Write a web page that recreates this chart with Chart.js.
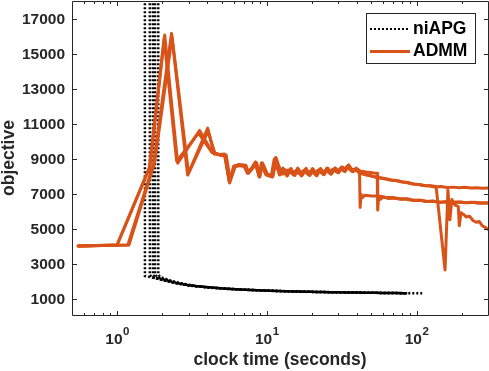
<!DOCTYPE html>
<html>
<head>
<meta charset="utf-8">
<script src="https://cdn.jsdelivr.net/npm/chart.js@4.4.0/dist/chart.umd.min.js"></script>
<style>
  html, body { margin: 0; padding: 0; background: #fff; }
  canvas { display: block; }
</style>
</head>
<body>
<canvas id="objective-chart" width="489" height="371"></canvas>
<script>
// axis ticks
const yTicks = [1000, 3000, 5000, 7000, 9000, 11000, 13000, 15000, 17000];
const xMajorTicks = [1, 10, 100];
const xMinorTicks = [0.6, 0.7, 0.8, 0.9, 2, 3, 4, 5, 6, 7, 8, 9, 20, 30, 40, 50, 60, 70, 80, 90, 200];
const legendLabels = ['niAPG', 'ADMM'];

// ADMM runs: [clock time (s), objective]
const admmRunA = [[0.55,4050],[1.0,4100],[1.66,8600],[2.08,16100],[2.54,8780],[3.56,10650],[4.34,9380],[4.83,9280],[5.2,9300],[5.63,7700],[6.0,8600],[6.55,8680],[7.1,8640],[7.4,8230],[7.9,8480],[8.4,8850],[8.9,8000],[9.2,8780],[9.9,8120],[10.8,8020],[11.4,9080],[12.0,8350],[12.7,8150],[13.4,8400],[13.8,8200],[14.2,8330],[15.0,8120],[15.9,8380],[16.8,8180],[17.8,8320],[18.8,8150],[19.9,8360],[21.0,8170],[22.2,8340],[23.5,8200],[24.9,8400],[26.3,8220],[27.8,8420],[29.4,8280],[31.1,8460],[32.9,8320],[34.4,8600],[36.8,8330],[38.9,8420],[41.1,8250],[44,8150],[48,8080],[52,8000],[56,7950],[61,7900],[66,7820],[72,7800],[78,7720],[85,7690],[92,7600],[100,7580],[110,7500],[120,7490],[132,7420],[145,7440],[160,7390],[175,7410],[192,7370],[210,7400],[230,7360],[252,7380],[275,7340],[300,7360]];
const admmRunB = [[0.55,4050],[1.18,4100],[1.75,8700],[2.31,16200],[2.96,8100],[4.03,10780],[4.45,9300],[4.95,9250],[5.3,9200],[5.65,7650],[6.1,8620],[6.5,8650],[7.2,8600],[7.5,8250],[7.95,8450],[8.5,8820],[8.95,7980],[9.3,8800],[10.0,8100],[10.9,7990],[11.5,9100],[12.1,8150],[12.8,8500],[13.6,8050],[14.4,8450],[15.2,8100],[16.1,8500],[17.0,8050],[18.0,8430],[19.1,8100],[20.2,8470],[21.3,8080],[22.6,8440],[23.9,8120],[25.2,8500],[26.7,8150],[28.2,8460],[29.8,8250],[31.5,8550],[33.3,8300],[35.0,8650],[37.2,8300],[39.5,8500],[41.6,8350],[42.0,6250],[42.6,7000],[43.5,6800],[45,6950],[50,6900],[56,6900],[62,6830],[69,6820],[77,6740],[86,6740],[96,6660],[107,6660],[118,6590],[130,6610],[145,6550],[160,6580],[178,6530],[198,6560],[220,6510],[245,6540],[270,6490],[300,6510]];
const admmRunC = [[0.55,4050],[1.2,4100],[1.78,8800],[2.33,16000],[3.0,8200],[4.05,10600],[4.5,9350],[5.0,9200],[5.35,9250],[5.7,7800],[6.15,8580],[6.45,8700],[7.25,8660],[7.55,8200],[8.05,8500],[8.55,8780],[9.0,8050],[9.4,8760],[10.1,8150],[11.0,8050],[11.6,9020],[12.4,8300],[13.1,8180],[13.9,8380],[14.8,8200],[15.6,8340],[16.6,8160],[17.6,8360],[18.6,8200],[19.7,8330],[20.8,8170],[22.0,8380],[23.3,8220],[24.6,8360],[26.0,8250],[27.5,8420],[29.1,8300],[30.8,8460],[32.6,8360],[34.2,8580],[36.3,8380],[38.5,8430],[40.8,8330],[43,8320],[46,8280],[49,8250],[52,8220],[54.6,8200],[55,6100],[55.8,6850],[57,6700],[60,6840],[65,6760],[71,6780],[78,6710],[86,6710],[95,6650],[105,6660],[116,6590],[128,6600],[142,6550],[157,6570],[172,6540],[190,6560],[210,6520],[232,6540],[255,6500],[280,6520],[300,6490]];
const admmRunD = [[0.55,4050],[1.0,4100],[1.64,8500],[2.06,15900],[2.5,8900],[3.5,10500],[4.3,9400],[4.9,9250],[5.25,9250],[5.6,7750],[6.05,8550],[6.6,8650],[7.05,8600],[7.45,8200],[8.0,8520],[8.35,8800],[8.85,8050],[9.25,8740],[9.8,8150],[10.7,8050],[11.2,9000],[12.2,8100],[12.9,8460],[13.7,8060],[14.5,8470],[15.4,8080],[16.3,8430],[17.3,8100],[18.3,8480],[19.4,8080],[20.5,8420],[21.6,8060],[22.9,8470],[24.2,8130],[25.6,8490],[27.1,8170],[28.6,8520],[30.2,8230],[32.0,8560],[33.8,8400],[35.2,8680],[37.8,8300],[40.0,8450],[42.5,8250],[46,8120],[50,8050],[54,7980],[58,7930],[63,7880],[69,7800],[75,7780],[82,7690],[89,7660],[96,7580],[105,7560],[115,7490],[125,7490],[135,7450],[155,2670],[162,7250],[167,5540],[172,6700],[180,6400],[190,6300],[193,5200],[198,5950],[206,5850],[215,5700],[226,5750],[238,5500],[250,5400],[262,5450],[275,5200],[288,5100],[300,5000]];

// niAPG runs: [clock time (s), objective]
const niapgRun1 = [[1.53,60000],[1.535,2330],[1.6,2300],[1.75,2220],[1.9,2150],[2.1,2060],[2.35,1950],[2.6,1880],[3.0,1790],[3.5,1720],[4.2,1660],[5.1,1600],[6.2,1560],[7.6,1530],[9.3,1500],[11.5,1470],[14,1450],[18,1430],[23,1410],[30,1395],[40,1380],[55,1365],[70,1355],[84,1345]];
const niapgRun2 = [[1.65,60000],[1.655,2380],[1.72,2260],[1.85,2200],[2.0,2100],[2.2,2020],[2.45,1930],[2.8,1840],[3.2,1770],[3.8,1700],[4.6,1640],[5.6,1590],[6.9,1550],[8.5,1520],[10.5,1490],[13,1460],[16,1440],[20,1420],[26,1405],[34,1390],[45,1375],[60,1360],[75,1350],[85,1345]];
const niapgRun3 = [[1.73,60000],[1.735,2400],[1.8,2250],[1.95,2160],[2.15,2070],[2.4,1960],[2.7,1870],[3.1,1790],[3.6,1730],[4.3,1670],[5.3,1610],[6.5,1560],[8,1530],[10,1500],[12.5,1470],[15.5,1450],[19.5,1430],[25,1410],[32,1395],[42,1380],[56,1365],[72,1355],[86,1345]];
const niapgRun4 = [[1.79,60000],[1.795,2420],[1.85,2270],[2.0,2170],[2.25,2040],[2.55,1920],[2.9,1830],[3.35,1760],[4.0,1690],[4.9,1630],[6.0,1580],[7.3,1540],[9,1510],[11,1480],[13.8,1455],[17,1435],[22,1415],[28,1400],[37,1385],[50,1370],[65,1358],[87,1345]];
const niapgRun5 = [[1.88,60000],[1.885,2400],[1.95,2260],[2.1,2180],[2.3,2060],[2.6,1940],[3.0,1830],[3.4,1760],[4.1,1690],[5.0,1630],[6.1,1580],[7.5,1540],[9.2,1505],[11.3,1475],[14,1455],[18,1435],[23,1415],[30,1400],[40,1385],[52,1370],[68,1358],[85,1348],[95,1343],[109,1338]];

const admmColor = '#D95319';
const axisColor = '#262626';
const fontFamily = "'Liberation Sans', Arial, Helvetica, sans-serif";

function toPoints(run) {
    return run.map(([x, y]) => ({ x, y }));
}

// MATLAB style box, inward ticks, 10^n labels and legend
const matlabAxes = {
    id: 'matlabAxes',
    afterDatasetsDraw(chart) {
        const { ctx, chartArea: a, scales: { x, y } } = chart;
        ctx.save();
        ctx.strokeStyle = axisColor;
        ctx.lineWidth = 1;
        ctx.beginPath();
        ctx.rect(a.left + 0.5, a.top + 0.5, a.right - a.left, a.bottom - a.top);

        xMajorTicks.forEach(v => {
            const px = Math.round(x.getPixelForValue(v)) + 0.5;
            ctx.moveTo(px, a.bottom); ctx.lineTo(px, a.bottom - 4);
            ctx.moveTo(px, a.top + 1); ctx.lineTo(px, a.top + 5);
        });
        xMinorTicks.forEach(v => {
            const px = Math.round(x.getPixelForValue(v)) + 0.5;
            ctx.moveTo(px, a.bottom); ctx.lineTo(px, a.bottom - 2);
            ctx.moveTo(px, a.top + 1); ctx.lineTo(px, a.top + 3);
        });
        yTicks.forEach(v => {
            const py = Math.round(y.getPixelForValue(v)) + 0.5;
            ctx.moveTo(a.left + 1, py); ctx.lineTo(a.left + 5, py);
            ctx.moveTo(a.right, py); ctx.lineTo(a.right - 4, py);
        });
        ctx.stroke();
        ctx.restore();
    },
    afterDraw(chart) {
        const { ctx, scales: { x } } = chart;
        ctx.save();

        // x tick labels as 10^n
        ctx.fillStyle = axisColor;
        ctx.textBaseline = 'alphabetic';
        ctx.textAlign = 'left';
        xMajorTicks.forEach(v => {
            const exp = String(Math.round(Math.log10(v)));
            ctx.font = `bold 15.5px ${fontFamily}`;
            const baseW = ctx.measureText('10').width;
            ctx.font = `bold 11.5px ${fontFamily}`;
            const expW = ctx.measureText(exp).width;
            const cx = x.getPixelForValue(v);
            const left = cx - (baseW + expW) / 2;
            ctx.font = `bold 15.5px ${fontFamily}`;
            ctx.fillText('10', left, 343.5);
            ctx.font = `bold 11.5px ${fontFamily}`;
            ctx.fillText(exp, left + baseW + 0.5, 335);
        });

        // legend
        const box = { x: 366.5, y: 13.5, w: 109, h: 50 };
        ctx.fillStyle = '#fff';
        ctx.fillRect(box.x, box.y, box.w, box.h);
        ctx.strokeStyle = axisColor;
        ctx.lineWidth = 1;
        ctx.strokeRect(box.x, box.y, box.w, box.h);

        const rows = [
            { label: legendLabels[0], y: 29, color: '#000', width: 2, dash: [2, 2] },
            { label: legendLabels[1], y: 51.5, color: admmColor, width: 3, dash: [] }
        ];
        rows.forEach(r => {
            ctx.beginPath();
            ctx.strokeStyle = r.color;
            ctx.lineWidth = r.width;
            ctx.setLineDash(r.dash);
            ctx.moveTo(370, r.y);
            ctx.lineTo(410, r.y);
            ctx.stroke();
            ctx.setLineDash([]);
            ctx.fillStyle = '#000';
            ctx.font = `bold 17.5px ${fontFamily}`;
            ctx.textBaseline = 'middle';
            ctx.fillText(r.label, 413, r.y);
        });
        ctx.restore();
    }
};

const datasets = [
    ...[admmRunA, admmRunB, admmRunC, admmRunD].map(run => ({
        label: legendLabels[1],
        data: toPoints(run),
        borderColor: admmColor,
        borderWidth: 3,
        borderJoinStyle: 'round',
        borderCapStyle: 'round',
        pointRadius: 0,
        tension: 0,
        order: 0
    })),
    ...[niapgRun1, niapgRun2, niapgRun3, niapgRun4, niapgRun5].map(run => ({
        label: legendLabels[0],
        data: toPoints(run),
        borderColor: '#000',
        borderWidth: 2.5,
        borderDash: [2, 2],
        pointRadius: 0,
        tension: 0,
        order: 1
    }))
];

new Chart(document.getElementById('objective-chart').getContext('2d'), {
    type: 'line',
    data: { datasets },
    options: {
        responsive: false,
        animation: false,
        devicePixelRatio: 1,
        layout: { padding: { left: 0, top: 1, right: 1, bottom: 0 } },
        plugins: {
            legend: { display: false },
            tooltip: { enabled: false }
        },
        scales: {
            x: {
                type: 'logarithmic',
                min: 0.5,
                max: 300,
                grid: { display: false },
                border: { display: false },
                ticks: { display: false },
                title: {
                    display: true,
                    text: 'clock time (seconds)',
                    color: axisColor,
                    font: { family: fontFamily, size: 17.5, weight: 'bold', lineHeight: 1 },
                    padding: { top: 0, bottom: 2.25 }
                },
                afterFit(scale) {
                    scale.height = 56;
                    scale.paddingLeft = 0;
                    scale.paddingRight = 0;
                }
            },
            y: {
                type: 'linear',
                min: 100,
                max: 18050,
                grid: { display: false, drawTicks: false },
                border: { display: false },
                afterBuildTicks(scale) {
                    scale.ticks = yTicks.map(v => ({ value: v }));
                },
                ticks: {
                    color: axisColor,
                    padding: 7,
                    font: { family: fontFamily, size: 15.5, weight: 'bold' },
                    callback: v => String(v)
                },
                title: {
                    display: true,
                    text: 'objective',
                    color: axisColor,
                    font: { family: fontFamily, size: 17.5, weight: 'bold', lineHeight: 1 },
                    padding: { top: 0.25, bottom: 0 }
                },
                afterFit(scale) {
                    scale.width = 72;
                    scale.paddingTop = 0;
                    scale.paddingBottom = 0;
                }
            }
        }
    },
    plugins: [matlabAxes]
});
</script>
</body>
</html>
